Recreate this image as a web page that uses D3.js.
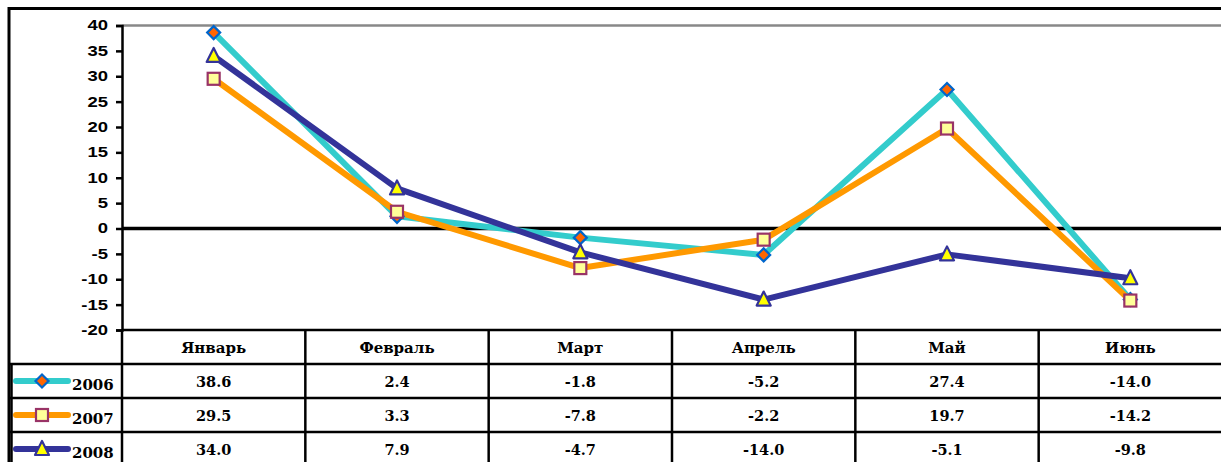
<!DOCTYPE html>
<html><head><meta charset="utf-8">
<script src="https://cdn.jsdelivr.net/npm/d3@7"></script>
<style>html,body{margin:0;padding:0;background:#fff;overflow:hidden}</style>
</head><body>
<script>
const categories = ["Январь","Февраль","Март","Апрель","Май","Июнь"];
const years = ["2006","2007","2008"];
const values2006 = [38.6, 2.4, -1.8, -5.2, 27.4, -14.0];
const values2007 = [29.5, 3.3, -7.8, -2.2, 19.7, -14.2];
const values2008 = [34.0, 7.9, -4.7, -14.0, -5.1, -9.8];
const yTicks = [40,35,30,25,20,15,10,5,0,-5,-10,-15,-20];

const seriesStyles = [
  {line:"#33CCCC", fill:"#FF6600", stroke:"#0066CC", shape:"diamond"},
  {line:"#FF9900", fill:"#FFFF99", stroke:"#993366", shape:"square"},
  {line:"#333399", fill:"#FFFF00", stroke:"#333399", shape:"triangle"}
];
const series = [values2006, values2007, values2008].map((v,i)=>({name:years[i], values:v, style:seriesStyles[i]}));

const hy = f => (d => f(d).replace("\u2212","-"));
const fmtInt = hy(d3.format("d"));
const fmt1 = hy(d3.format(".1f"));

const W=1221, H=462;
const svg = d3.select("body").append("svg").attr("width",W).attr("height",H);
const x0=122, x1=1222, yTop=25.5, yBot=330;
const x = d3.scaleBand().domain(categories).range([x0,x1]);
const y = d3.scaleLinear().domain([-20,40]).range([yBot,yTop]);

// outer frame
svg.append("rect").attr("x",9).attr("y",8.5).attr("width",1240).attr("height",500)
  .attr("fill","none").attr("stroke","#000").attr("stroke-width",3);

// top gridline (40)
svg.append("line").attr("x1",x0).attr("x2",x1).attr("y1",y(40)).attr("y2",y(40))
  .attr("stroke","#888").attr("stroke-width",2.5);

// y axis
const yAxis = d3.axisLeft(y).tickValues(yTicks).tickSize(6).tickPadding(8).tickFormat(fmtInt);
const ga = svg.append("g").attr("transform",`translate(${x0},0)`).call(yAxis);
ga.select(".domain").attr("stroke","#000").attr("stroke-width",2.5);
ga.selectAll(".tick line").attr("stroke","#000").attr("stroke-width",2.5);
ga.selectAll(".tick text").attr("font-family","Liberation Sans, Arial, sans-serif")
  .attr("font-weight","bold").attr("font-size",14).attr("fill","#000")
  .each(function(){
    const t=d3.select(this);
    const xx=+t.attr("x");
    t.attr("x",null).attr("transform",`translate(${xx},0) scale(1.32,1)`);
  });

// zero line
svg.append("line").attr("x1",x0).attr("x2",x1).attr("y1",y(0)).attr("y2",y(0))
  .attr("stroke","#000").attr("stroke-width",3.5);

// lines & markers
const lineGen = d3.line().x((d,i)=>x(categories[i])+x.bandwidth()/2).y(d=>y(d));
function marker(g, shape, cx, cy, st){
  if(shape==="diamond"){
    const r=6.5;
    g.append("path").attr("d",`M${cx},${cy-r}L${cx+r},${cy}L${cx},${cy+r}L${cx-r},${cy}Z`)
      .attr("fill",st.fill).attr("stroke",st.stroke).attr("stroke-width",2.2);
  } else if(shape==="square"){
    const s=12;
    g.append("rect").attr("x",cx-s/2).attr("y",cy-s/2).attr("width",s).attr("height",s)
      .attr("fill",st.fill).attr("stroke",st.stroke).attr("stroke-width",2.2);
  } else {
    const r=7;
    g.append("path").attr("d",`M${cx},${cy-r-1}L${cx+r},${cy+r-1}L${cx-r},${cy+r-1}Z`)
      .attr("fill",st.fill).attr("stroke",st.stroke).attr("stroke-width",2.2).attr("stroke-linejoin","round");
  }
}
series.forEach(s=>{
  svg.append("path").datum(s.values).attr("d",lineGen).attr("fill","none")
    .attr("stroke",s.style.line).attr("stroke-width",6).attr("stroke-linejoin","round");
});
series.forEach(s=>{
  const g=svg.append("g");
  s.values.forEach((v,i)=>marker(g, s.style.shape, x(categories[i])+x.bandwidth()/2, y(v), s.style));
});

// data table
const rowY=[330,364,398,432,466];
const tbl=svg.append("g");
tbl.append("line").attr("x1",x0).attr("x2",x1).attr("y1",rowY[0]).attr("y2",rowY[0]).attr("stroke","#000").attr("stroke-width",2.5);
[1,2,3].forEach(k=>tbl.append("line").attr("x1",9).attr("x2",x1).attr("y1",rowY[k]).attr("y2",rowY[k]).attr("stroke","#000").attr("stroke-width",2.5));
categories.forEach(c=>tbl.append("line").attr("x1",x(c)).attr("x2",x(c)).attr("y1",rowY[0]).attr("y2",H).attr("stroke","#000").attr("stroke-width",2.5));
tbl.append("line").attr("x1",11.5).attr("x2",11.5).attr("y1",rowY[1]).attr("y2",H).attr("stroke","#000").attr("stroke-width",2.5);

const tf="DejaVu Serif, serif";
categories.forEach(c=>tbl.append("text").attr("x",x(c)+x.bandwidth()/2).attr("y",(rowY[0]+rowY[1])/2+5.5)
  .attr("text-anchor","middle").attr("font-family",tf).attr("font-weight","bold").attr("font-size",15).text(c));
series.forEach((s,r)=>{
  const cy=(rowY[r+1]+rowY[r+2])/2;
  s.values.forEach((v,i)=>tbl.append("text").attr("x",x(categories[i])+x.bandwidth()/2).attr("y",cy+5.5)
    .attr("text-anchor","middle").attr("font-family",tf).attr("font-weight","bold").attr("font-size",14.5).text(fmt1(v)));
  tbl.append("line").attr("x1",16).attr("x2",68).attr("y1",cy).attr("y2",cy)
    .attr("stroke",s.style.line).attr("stroke-width",6).attr("stroke-linecap","round");
  marker(tbl, s.style.shape, 42, cy, s.style);
  tbl.append("text").attr("x",72).attr("y",cy+9).attr("font-family",tf).attr("font-weight","bold")
    .attr("font-size",15).text(s.name);
});
</script>
</body></html>
